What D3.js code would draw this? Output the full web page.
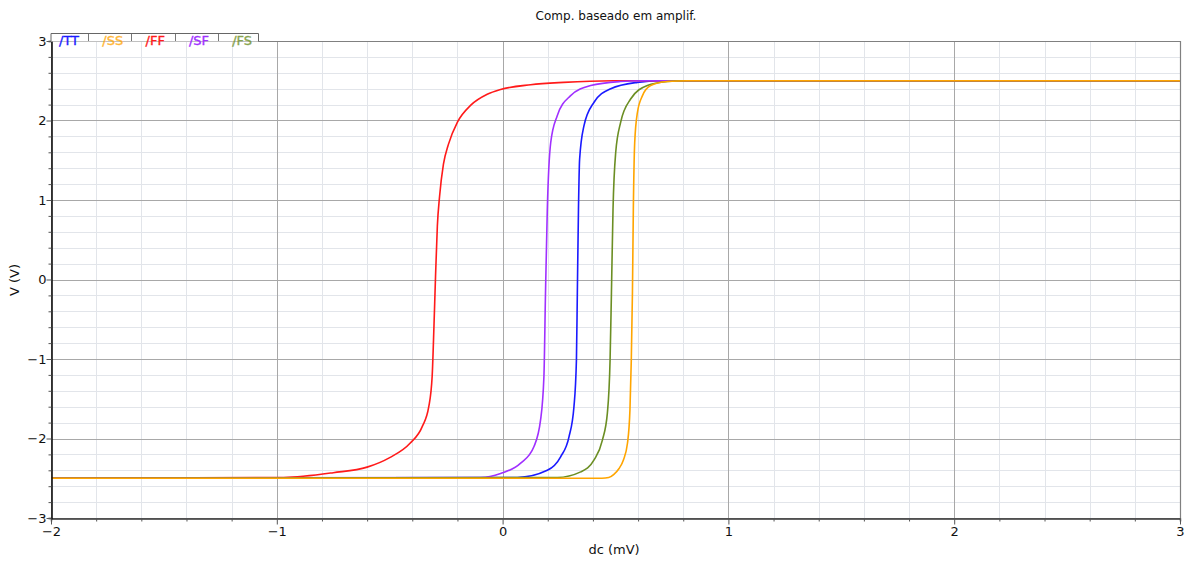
<!DOCTYPE html>
<html>
<head>
<meta charset="utf-8">
<script src="https://cdn.jsdelivr.net/npm/d3@7"></script>
<style>
  body { margin: 0; background: #fff; }
  text { font-family: "DejaVu Sans", Verdana, sans-serif; }
</style>
</head>
<body>
<svg id="chart" width="1187" height="563"></svg>
<script>
// data: [dc (mV), V (V)]
var seriesNames = ['TT', 'SS', 'FF', 'SF', 'FS'];
var seriesColors = ['#1a1aff', '#ffa500', '#ff1a1a', '#a030ff', '#6b8e23'];

var ttPoints = [[-2, -2.5], [0.065, -2.49], [0.198, -2.40], [0.257, -2.23], [0.294, -1.98], [0.316, -1.60],
  [0.327, -1.01], [0.331, -0.17], [0.336, 0.88], [0.341, 1.51], [0.36, 1.93], [0.405, 2.23],
  [0.479, 2.40], [0.597, 2.48], [0.70, 2.50], [3, 2.5]];
var ssPoints = [[-2, -2.5], [0.44, -2.5], [0.47, -2.49], [0.493, -2.45], [0.515, -2.38], [0.535, -2.27],
  [0.553, -2.06], [0.564, -1.64], [0.57, -1.01], [0.575, -0.17], [0.579, 0.88], [0.585, 1.72],
  [0.597, 2.10], [0.619, 2.31], [0.656, 2.44], [0.73, 2.49], [0.82, 2.5], [3, 2.5]];
var ffPoints = [[-2, -2.5], [-0.97, -2.49], [-0.75, -2.43], [-0.60, -2.36], [-0.50, -2.24], [-0.41, -2.06],
  [-0.356, -1.85], [-0.327, -1.60], [-0.312, -1.22], [-0.304, -0.59], [-0.297, 0.04], [-0.289, 0.67],
  [-0.279, 1.05], [-0.262, 1.45], [-0.24, 1.70], [-0.20, 1.98], [-0.142, 2.19], [-0.068, 2.33],
  [-0.009, 2.39], [0.124, 2.45], [0.27, 2.48], [0.49, 2.50], [3, 2.5]];
var sfPoints = [[-2, -2.5], [-0.098, -2.49], [-0.009, -2.44], [0.08, -2.31], [0.139, -2.10], [0.168, -1.77],
  [0.183, -1.22], [0.19, -0.17], [0.198, 0.88], [0.213, 1.72], [0.242, 2.06], [0.30, 2.31],
  [0.39, 2.44], [0.52, 2.49], [0.62, 2.5], [3, 2.5]];
var fsPoints = [[-2, -2.5], [0.242, -2.49], [0.346, -2.42], [0.405, -2.27], [0.442, -2.02], [0.464, -1.68],
  [0.476, -1.01], [0.482, -0.17], [0.489, 0.88], [0.501, 1.60], [0.523, 1.98], [0.567, 2.27],
  [0.641, 2.44], [0.73, 2.49], [0.80, 2.5], [3, 2.5]];

var xTicks = [-2, -1, 0, 1, 2, 3];
var yTicks = [-3, -2, -1, 0, 1, 2, 3];

var series = [
  {name: 'TT', pts: ttPoints},
  {name: 'SS', pts: ssPoints},
  {name: 'FF', pts: ffPoints},
  {name: 'SF', pts: sfPoints},
  {name: 'FS', pts: fsPoints}
];
var colorOf = d3.scaleOrdinal().domain(seriesNames).range(seriesColors);

var svg = d3.select('#chart');
var padL = 51, padR = 1180, padT = 41, padB = 518;

var x = d3.scaleLinear().domain([-2, 3]).range([padL, padR]);
var y = d3.scaleLinear().domain([-3, 3]).range([padB, padT]);

// grid
var minorX = d3.range(-2, 3.001, 0.2).map(function (v) { return +v.toFixed(1); });
var minorY = d3.range(-3, 3.001, 0.2).map(function (v) { return +v.toFixed(1); });

var grid = svg.append('g');
grid.selectAll('.mx').data(minorX).enter().append('line')
  .attr('x1', d => Math.round(x(d)) + 0.5).attr('x2', d => Math.round(x(d)) + 0.5)
  .attr('y1', padT).attr('y2', padB)
  .attr('stroke', '#e2e5ea').attr('stroke-width', 1);
grid.selectAll('.my').data(minorY).enter().append('line')
  .attr('y1', d => Math.round(y(d)) + 0.5).attr('y2', d => Math.round(y(d)) + 0.5)
  .attr('x1', padL).attr('x2', padR)
  .attr('stroke', '#e2e5ea').attr('stroke-width', 1);
grid.selectAll('.Mx').data(xTicks).enter().append('line')
  .attr('x1', d => Math.round(x(d)) + 0.5).attr('x2', d => Math.round(x(d)) + 0.5)
  .attr('y1', padT).attr('y2', padB)
  .attr('stroke', '#a8a8a8').attr('stroke-width', 1);
grid.selectAll('.My').data(yTicks).enter().append('line')
  .attr('y1', d => Math.round(y(d)) + 0.5).attr('y2', d => Math.round(y(d)) + 0.5)
  .attr('x1', padL).attr('x2', padR)
  .attr('stroke', '#a8a8a8').attr('stroke-width', 1);

// frame (top/right)
svg.append('path')
  .attr('d', 'M' + padL + ',' + (padT + 0.5) + 'H' + (padR + 0.5) + 'V' + padB)
  .attr('fill', 'none').attr('stroke', '#808080').attr('stroke-width', 1.2);

// curves, SS drawn last
var line = d3.line().x(d => x(d[0])).y(d => y(d[1])).curve(d3.curveMonotoneX);
var drawOrder = ['TT', 'FF', 'SF', 'FS', 'SS'];
svg.append('g').selectAll('path')
  .data(drawOrder.map(n => series.find(s => s.name === n)))
  .enter().append('path')
  .attr('d', d => line(d.pts))
  .attr('fill', 'none')
  .attr('stroke', d => colorOf(d.name))
  .attr('stroke-width', 1.6)
  .attr('stroke-linejoin', 'round');

// axes
var xAxis = d3.axisBottom(x).tickValues(minorX).tickSize(3)
  .tickFormat(d => xTicks.indexOf(d) >= 0 ? d3.format('d')(d).replace('-', '\u2212') : '');
var gx = svg.append('g').attr('transform', 'translate(0,' + (padB + 0.5) + ')').call(xAxis);
gx.select('.domain').attr('stroke', '#333').attr('stroke-width', 1.4);
gx.selectAll('.tick line').attr('stroke', '#555')
  .attr('y2', d => xTicks.indexOf(d) >= 0 ? 6 : 3);
gx.selectAll('.tick text').attr('font-size', 13).attr('fill', '#111').attr('dy', '0.85em');

var yAxis = d3.axisLeft(y).tickValues(minorY).tickSize(3)
  .tickFormat(d => yTicks.indexOf(d) >= 0 ? d3.format('d')(d).replace('-', '\u2212') : '');
var gy = svg.append('g').attr('transform', 'translate(' + (padL + 0.5) + ',0)').call(yAxis);
gy.select('.domain').attr('stroke', '#111').attr('stroke-width', 1.6);
gy.selectAll('.tick line').attr('stroke', '#555')
  .attr('x2', d => yTicks.indexOf(d) >= 0 ? -5 : -3);
gy.selectAll('.tick text').attr('font-size', 13).attr('fill', '#111').attr('x', -5);

// legend box
var legendW = 207;
svg.append('path')
  .attr('d', 'M' + padL + ',' + (padT + 0.5) + 'V33.5H' + (padL + legendW + 0.5) + 'V' + (padT + 0.5))
  .attr('fill', '#fff').attr('stroke', '#666').attr('stroke-width', 1);
var legend = svg.append('g');
var slotW = 43.3;
legend.selectAll('text').data(seriesNames).enter().append('text')
  .attr('x', (d, i) => padL + 8 + i * slotW)
  .attr('y', 45)
  .attr('font-size', 13)
  .attr('fill', d => colorOf(d))
  .attr('stroke', d => colorOf(d))
  .attr('stroke-width', 0.35)
  .attr('opacity', d => (d === 'SS' || d === 'FS') ? 0.8 : 1)
  .text(d => '/' + d);
legend.selectAll('line').data(seriesNames.slice(1)).enter().append('line')
  .attr('x1', (d, i) => Math.round(padL + 37 + i * slotW) + 0.5)
  .attr('x2', (d, i) => Math.round(padL + 37 + i * slotW) + 0.5)
  .attr('y1', 34).attr('y2', 41)
  .attr('stroke', '#777');

// titles
svg.append('text').attr('x', 616).attr('y', 20).attr('text-anchor', 'middle')
  .attr('font-size', 12).attr('fill', '#111').text('Comp. baseado em amplif.');
svg.append('text').attr('x', 614).attr('y', 554).attr('text-anchor', 'middle')
  .attr('font-size', 13).attr('fill', '#111').text('dc (mV)');
svg.append('text').attr('transform', 'translate(19,280) rotate(-90)').attr('text-anchor', 'middle')
  .attr('font-size', 13).attr('fill', '#111').text('V (V)');
</script>
</body>
</html>
